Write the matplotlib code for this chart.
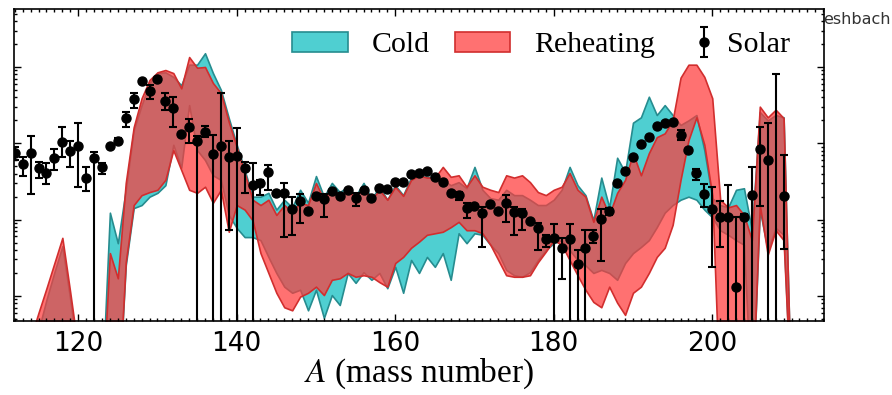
import numpy as np
import matplotlib
matplotlib.use("Agg")
import matplotlib.pyplot as plt

plt.rcParams["mathtext.fontset"] = "stix"

# mass numbers for the network bands
mass = np.arange(110, 211)

# log10 abundance ranges, reheating scenario
reheat_hi = [
    -6.5, -6.5, -6.5, -6.5, -5.55, -5.22, -4.90, -4.57, -4.24, -4.96,
    -5.71, -6.5, -6.5, -6.36, -4.44, -4.77, -3.52, -2.79, -2.41, -2.17,
    -2.07, -2.04, -2.08, -2.28, -1.87, -2.01, -2.00, -2.21, -2.34, -2.72,
    -3.05, -3.39, -3.74, -3.81, -3.74, -3.94, -3.81, -3.90, -3.78, -3.81,
    -3.52, -3.74, -3.59, -3.68, -3.61, -3.72, -3.57, -3.74, -3.61, -3.74,
    -3.57, -3.69, -3.48, -3.42, -3.45, -3.45, -3.31, -3.44, -3.42, -3.57,
    -3.42, -3.57, -3.61, -3.64, -3.42, -3.45, -3.42, -3.51, -3.64, -3.68,
    -3.61, -3.57, -3.39, -3.61, -3.70, -4.03, -3.70, -3.94, -3.65, -3.48,
    -3.13, -3.42, -3.13, -2.92, -2.87, -2.70, -2.14, -1.97, -1.97, -2.13,
    -2.41, -3.74, -3.84, -3.81, -3.94, -4.27, -2.52, -2.66, -2.56, -2.67,
    -6.5]
reheat_lo = [
    -6.5, -6.5, -6.5, -6.5, -6.5, -6.5, -6.5, -6.5, -6.5, -6.5,
    -6.5, -6.5, -6.5, -6.5, -6.5, -6.5, -4.56, -3.81, -3.68, -3.64,
    -3.61, -3.48, -3.09, -3.35, -3.61, -3.65, -3.57, -3.78, -3.61, -4.16,
    -3.81, -3.87, -4.01, -4.44, -4.70, -4.96, -5.15, -5.19, -5.01, -4.96,
    -4.88, -4.99, -4.79, -4.77, -4.70, -4.75, -4.73, -4.75, -4.82, -4.88,
    -4.57, -4.49, -4.37, -4.29, -4.20, -4.18, -4.16, -4.10, -4.03, -4.14,
    -4.14, -4.18, -4.33, -4.53, -4.73, -4.75, -4.75, -4.73, -4.56, -4.42,
    -4.27, -4.33, -4.53, -4.73, -4.92, -5.08, -5.15, -4.88, -5.09, -5.25,
    -4.96, -4.88, -4.70, -4.49, -4.37, -4.07, -3.48, -2.96, -2.66, -3.02,
    -3.68, -6.5, -6.5, -6.5, -6.5, -6.5, -3.81, -4.46, -4.14, -4.27,
    -6.5]

# log10 abundance ranges, cold scenario
cold_hi = [
    -6.5, -6.5, -6.5, -6.5, -5.84, -5.45, -5.05, -4.69, -4.35, -5.05,
    -5.84, -6.5, -6.5, -6.23, -3.91, -4.31, -3.61, -2.83, -2.50, -2.21,
    -2.08, -2.07, -2.13, -2.24, -1.97, -1.97, -1.82, -2.08, -2.30, -2.67,
    -3.02, -3.35, -3.70, -3.70, -3.65, -3.87, -3.74, -3.84, -3.61, -3.78,
    -3.43, -3.70, -3.52, -3.64, -3.57, -3.69, -3.52, -3.73, -3.57, -3.74,
    -3.55, -3.68, -3.45, -3.39, -3.44, -3.44, -3.48, -3.55, -3.51, -3.59,
    -3.31, -3.61, -3.72, -3.74, -3.61, -3.68, -3.68, -3.74, -3.81, -3.81,
    -3.74, -3.61, -3.31, -3.55, -3.68, -4.01, -3.45, -3.84, -3.19, -3.38,
    -2.73, -2.66, -2.39, -2.63, -2.50, -2.63, -2.76, -2.70, -2.63, -3.09,
    -3.72, -3.81, -3.84, -3.61, -3.59, -4.14, -2.59, -2.70, -2.63, -2.66,
    -6.5]
cold_lo = [
    -6.5, -6.5, -6.5, -6.5, -6.5, -6.5, -6.5, -6.5, -6.5, -6.5,
    -6.5, -6.5, -6.5, -6.5, -6.5, -6.5, -4.60, -3.85, -3.81, -3.70,
    -3.65, -3.55, -3.02, -3.32, -2.50, -3.09, -3.22, -3.42, -3.48, -3.94,
    -4.11, -4.23, -4.23, -4.27, -4.49, -4.70, -4.88, -4.96, -4.92, -5.19,
    -4.92, -5.29, -4.99, -5.12, -4.70, -4.83, -4.69, -4.79, -4.70, -4.90,
    -4.62, -4.96, -4.53, -4.70, -4.49, -4.62, -4.44, -4.79, -4.18, -4.31,
    -4.18, -4.20, -4.33, -4.44, -4.66, -4.73, -4.75, -4.69, -4.53, -4.40,
    -4.31, -4.27, -4.40, -4.53, -4.60, -4.70, -4.66, -4.70, -4.79, -4.57,
    -4.44, -4.36, -4.27, -4.10, -3.91, -3.81, -3.74, -3.70, -3.74, -3.87,
    -3.97, -4.14, -4.20, -4.27, -4.33, -6.5, -3.87, -4.40, -4.11, -4.20,
    -6.5]

# solar r-process residuals (log10) with error bar ends
solar_A = np.arange(112, 210)
solar_val = [
    -3.13, -3.27, -3.13, -3.32, -3.39, -3.19, -2.98, -3.10, -3.04, -3.45,
    -3.19, -3.31, -3.04, -2.97, -2.67, -2.42, -2.18, -2.31, -2.16, -2.45,
    -2.54, -2.88, -2.79, -2.97, -2.85, -3.14, -3.04, -3.18, -3.17, -3.32,
    -3.55, -3.52, -3.38, -3.65, -3.65, -3.86, -3.76, -3.89, -3.69, -3.73,
    -3.63, -3.69, -3.61, -3.72, -3.61, -3.72, -3.59, -3.60, -3.51, -3.51,
    -3.40, -3.39, -3.36, -3.44, -3.51, -3.65, -3.68, -3.85, -3.82, -3.91,
    -3.80, -3.89, -3.78, -3.90, -3.91, -4.02, -4.11, -4.25, -4.24, -4.37,
    -4.25, -4.58, -4.37, -4.22, -3.99, -3.89, -3.52, -3.36, -3.18, -3.01,
    -2.92, -2.77, -2.73, -2.72, -2.89, -3.09, -3.39, -3.66, -3.86, -3.97,
    -3.97, -4.88, -3.97, -3.68, -3.07, -3.22, -5.58, -3.69]
solar_hi = [
    -3.05, -3.18, -2.90, -3.25, -3.26, -3.07, -2.79, -2.97, -2.73, -3.31,
    -3.11, -3.26, -3.04, -2.93, -2.59, -2.34, -2.18, -2.24, -2.16, -2.34,
    -2.39, -2.88, -2.68, -2.90, -2.77, -2.89, -2.34, -2.97, -2.80, -3.25,
    -3.26, -3.48, -3.28, -3.65, -3.52, -3.70, -3.66, -3.89, -3.69, -3.66,
    -3.63, -3.69, -3.61, -3.65, -3.61, -3.72, -3.59, -3.60, -3.51, -3.51,
    -3.40, -3.39, -3.36, -3.44, -3.51, -3.65, -3.64, -3.78, -3.82, -3.84,
    -3.80, -3.89, -3.68, -3.84, -3.86, -4.02, -4.05, -4.20, -4.06, -4.24,
    -4.06, -4.40, -4.14, -4.14, -3.86, -3.85, -3.52, -3.36, -3.18, -3.01,
    -2.92, -2.77, -2.73, -2.72, -2.83, -3.09, -3.34, -3.53, -3.57, -3.76,
    -3.55, -3.97, -3.93, -3.31, -2.79, -2.73, -2.09, -3.15]
solar_lo = [
    -3.22, -3.43, -3.66, -3.45, -3.53, -3.35, -3.18, -3.31, -3.57, -3.63,
    -7.0, -3.40, -3.04, -3.01, -2.79, -2.54, -2.18, -2.42, -2.16, -2.56,
    -2.79, -2.88, -3.00, -7.0, -2.92, -7.0, -7.0, -4.14, -7.0, -3.65,
    -7.0, -3.68, -3.61, -3.65, -4.23, -4.20, -4.05, -3.89, -3.69, -3.97,
    -3.63, -3.69, -3.61, -3.82, -3.61, -3.72, -3.59, -3.60, -3.51, -3.51,
    -3.40, -3.39, -3.36, -3.44, -3.51, -3.65, -3.74, -3.98, -3.82, -4.36,
    -3.80, -3.89, -4.03, -4.20, -4.14, -4.02, -4.40, -4.36, -7.0, -4.78,
    -7.0, -7.0, -7.0, -4.31, -4.54, -3.94, -3.52, -3.36, -3.18, -3.01,
    -2.92, -2.77, -2.73, -2.72, -2.96, -3.09, -3.48, -3.84, -4.62, -4.36,
    -7.0, -7.0, -7.0, -7.0, -3.82, -7.0, -7.0, -4.38]

cold_face = (0.08, 0.75, 0.76, 0.75)
cold_edge = (0.15, 0.55, 0.56, 1.0)
reheat_face = (1.0, 0.23, 0.23, 0.72)
reheat_edge = (0.82, 0.18, 0.18, 1.0)

fig = plt.figure(figsize=(8.92, 3.95), dpi=100)
ax = fig.add_axes([14 / 892, 74 / 395, 810 / 892, 312 / 395])

cold = ax.fill_between(mass, 10 ** np.array(cold_lo), 10 ** np.array(cold_hi),
                       facecolor=cold_face, edgecolor=cold_edge, lw=1.2, label='Cold')
reheat = ax.fill_between(mass, 10 ** np.array(reheat_lo), 10 ** np.array(reheat_hi),
                         facecolor=reheat_face, edgecolor=reheat_edge, lw=1.2, label='Reheating')

sv = 10 ** np.array(solar_val)
yerr = [sv - 10 ** np.array(solar_lo), 10 ** np.array(solar_hi) - sv]
solar = ax.errorbar(solar_A, sv, yerr=yerr, fmt='o', color='k', ms=6.5,
                    elinewidth=1.5, capsize=3, capthick=1.5, zorder=3, label='Solar')

ax.set_yscale('log')
ax.set_xlim(111.9, 214.1)
ax.set_ylim(10 ** -5.33, 10 ** -1.24)
ax.set_xticks([120, 140, 160, 180, 200])
ax.xaxis.set_minor_locator(matplotlib.ticker.MultipleLocator(1))
ax.tick_params(which='both', direction='in', top=True, right=True, width=1)
ax.tick_params(which='major', length=5)
ax.tick_params(which='minor', length=2.5)
ax.tick_params(axis='x', labelsize=19, pad=7)
ax.tick_params(axis='y', labelleft=False)
for s in ax.spines.values():
    s.set_linewidth(1.2)

ax.set_xlabel(r'$A$ (mass number)', fontsize=24, family='Liberation Serif', labelpad=0)

lprop = {'family': 'Liberation Serif', 'size': 21.5}
leg1 = ax.legend([cold, reheat], ['Cold', 'Reheating'], loc='center left',
                 bbox_to_anchor=(278 / 810, 1 - 36 / 312), ncol=2, frameon=False,
                 prop=lprop, handlelength=1.87, handleheight=0.67,
                 handletextpad=0.8, columnspacing=0.83, borderpad=0, borderaxespad=0)
ax.add_artist(leg1)
ax.legend([solar], ['Solar'], loc='center left',
          bbox_to_anchor=(675 / 810, 1 - 36 / 312), frameon=False, prop=lprop,
          handlelength=1.0, handletextpad=0.27, borderpad=0, borderaxespad=0)

fig.text(823 / 892, 1 - 19 / 395, 'eshbach', fontsize=11.5, color='#333333',
         va='center', ha='left', family='DejaVu Sans', zorder=0)

fig.savefig('out.png', dpi=100)
